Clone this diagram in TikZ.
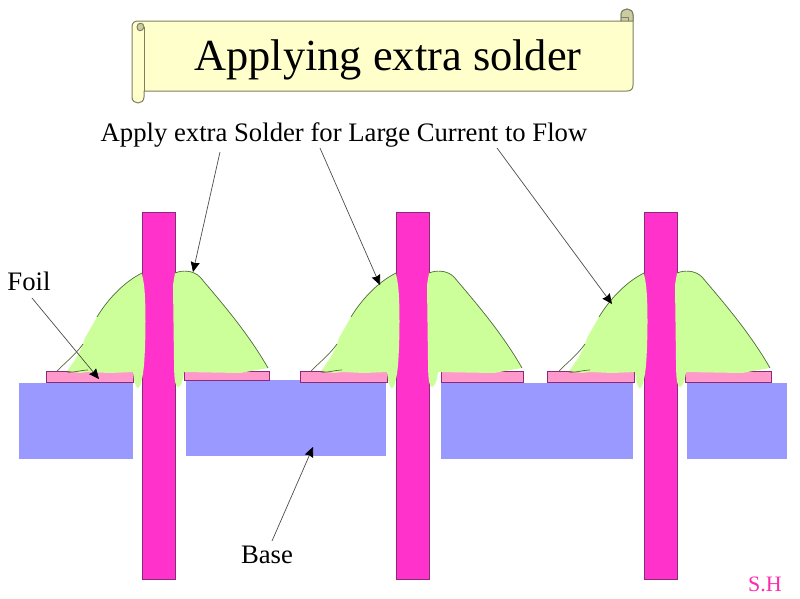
\documentclass[tikz,border=0pt]{standalone}
\usepackage{fontspec}
\setmainfont{Liberation Serif}
\usetikzlibrary{arrows.meta}
\definecolor{basec}{HTML}{9999FF}
\definecolor{foilc}{HTML}{FF99CC}
\definecolor{pinc}{HTML}{FF33CC}
\definecolor{soldc}{HTML}{CCFF99}
\definecolor{scrollc}{HTML}{FFFFCC}
\definecolor{curlc}{HTML}{CCCCA3}
\definecolor{scrolll}{HTML}{7F7F60}
\definecolor{edgec}{HTML}{8A2A78}
\definecolor{soldl}{HTML}{4F6B3A}
\tikzset{
  basebox/.style={fill=basec,draw=none},
  foilbox/.style={fill=foilc,draw=edgec,line width=.9pt},
  pinbox/.style={fill=pinc,draw=edgec,line width=.9pt},
  soldfill/.style={fill=soldc,draw=none},
  soldline/.style={draw=soldl,line width=.7pt},
  leader/.style={draw=black!70,line width=.7pt,-{Stealth[length=10pt,width=9pt,inset=1pt,black]}},
  scrollbody/.style={fill=scrollc,draw=scrolll,line width=1pt,line join=round},
  lbl/.style={font=\fontsize{26.7}{30}\selectfont,inner sep=0pt,text=black}
}
\newcommand{\joint}[2]{%
\begin{scope}[xshift=#1]
  \draw[pinbox] (142,212) rectangle (175,579);
  \path[soldfill] (67,371) .. controls (74,362) and (81,352) .. (85,338)
     -- (97,317) .. controls (106,302) and (122,283) .. (142,273)
     -- (144,285) .. controls (146,300) and (146,340) .. (144,365)
     .. controls (143,376) and (141,387) .. (138,388)
     .. controls (135,387) and (134,380) .. (133,372)
     -- (110,373) -- (88,372) -- (80,373) -- cycle;
  \path[soldfill] (175,273) .. controls (182,270) and (193,270) .. (200,277)
     .. controls (222,303) and (248,333) .. (268,368)
     -- (240,373) -- (184,372) .. controls (183,380) and (181,387) .. (178,387)
     .. controls (175,387) and (174,378) .. (174,360)
     -- (173,285) -- cycle;
  \draw[soldline] (57,371) .. controls (66,362) and (76,354) .. (83,344);
  \draw[soldline] (97,317) .. controls (106,302) and (122,283) .. (142,273);
  \draw[soldline] (175,273) .. controls (182,270) and (193,270) .. (200,277)
     .. controls (222,303) and (248,333) .. (268,368);
  \draw[soldline] (67,372) .. controls (72,373) and (82,370) .. (88,370);
\end{scope}}
\begin{document}
\begin{tikzpicture}[x=1pt,y=-1pt]
\useasboundingbox (0,0) rectangle (800,598);
% title scroll
\draw[scrollbody] (144,21) -- (621,21) -- (621,15) .. controls (621,7) and (633,7) .. (633,15) -- (633,85)
   .. controls (633,89) and (631,91) .. (627,91) -- (144,91) -- (144,97)
   .. controls (144,105) and (132,105) .. (132,97)
   -- (132,27) .. controls (132,23) and (134,21) .. (138,21) -- cycle;
\draw[scrollbody] (144,27) -- (144,91);
\draw[scrollbody,fill=curlc] (144,27) .. controls (144,22) and (137,22) .. (137,27)
   .. controls (137,32) and (143,32) .. (144,27) -- cycle;
\draw[scrollbody,fill=curlc] (621,21) -- (621,15) .. controls (621,7) and (633,7) .. (633,15) -- (633,21) -- cycle;
\draw[scrollbody,fill=none] (621,17) -- (628,17) -- (628,21);
\node[font=\fontsize{44.4}{50}\selectfont,inner sep=0pt] (title) at (388,60) {Applying extra solder};
% base blocks
\path[basebox] (19,383) rectangle (133,459);
\path[basebox] (186,380) rectangle (386,456);
\path[basebox] (441,383) rectangle (633,459);
\path[basebox] (687,383) rectangle (787,459);
% foil
\draw[foilbox] (46,371) rectangle (133,382);
\draw[foilbox] (184,371) rectangle (269,380);
\draw[foilbox] (300,371) rectangle (387,382);
\draw[foilbox] (441,371) rectangle (523,382);
\draw[foilbox] (547,371) rectangle (634,382);
\draw[foilbox] (685,371) rectangle (771,382);
% pins and solder
\joint{0pt}{}
\joint{254pt}{}
\joint{502pt}{}
% labels
\node[lbl,anchor=center] (apply) at (344,135) {Apply extra Solder for Large Current to Flow};
\node[lbl] (foil) at (29,281) {Foil};
\node[lbl] (base) at (267,555) {Base};
\node[font=\fontsize{22}{26}\selectfont,inner sep=0pt,text=pinc!85!red] (sh) at (765,584) {S.H};
% connectors
\coordinate (a1) at (220,152);
\coordinate (a2) at (320,148);
\coordinate (a3) at (497,148);
\coordinate (f1) at (32,298);
\coordinate (b1) at (272,541);
\coordinate (t1) at (193,272);
\coordinate (t2) at (380,285);
\coordinate (t3) at (612,304);
\coordinate (t4) at (99,379);
\coordinate (t5) at (313,447);
\draw[leader] (a1) -- (t1);
\draw[leader] (a2) -- (t2);
\draw[leader] (a3) -- (t3);
\draw[leader] (f1) -- (t4);
\draw[leader] (b1) -- (t5);
\end{tikzpicture}
\end{document}
